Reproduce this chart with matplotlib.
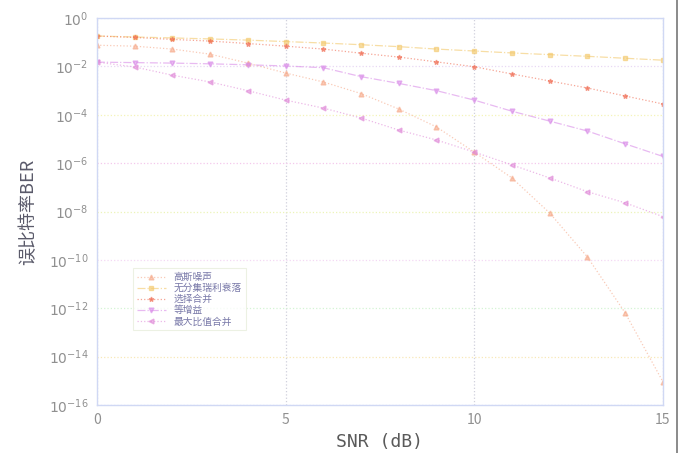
import numpy as np
import matplotlib
matplotlib.use("Agg")
import matplotlib.pyplot as plt
from matplotlib.lines import Line2D

plt.rcParams['font.family'] = ['Noto Sans CJK SC', 'DejaVu Sans']

snr_db = [0, 1, 2, 3, 4, 5, 6, 7, 8, 9, 10, 11, 12, 13, 14, 15]

# log10(BER)
log_awgn = [-1.12, -1.16, -1.28, -1.49, -1.86, -2.27, -2.64, -3.12, -3.76, -4.50,
            -5.54, -6.61, -8.06, -9.88, -12.19, -15.04]
log_rayleigh = [-0.74, -0.78, -0.82, -0.86, -0.91, -0.97, -1.03, -1.10, -1.18, -1.28,
                -1.36, -1.44, -1.51, -1.58, -1.66, -1.74]
log_select = [-0.74, -0.80, -0.88, -0.95, -1.05, -1.16, -1.28, -1.45, -1.61, -1.81,
              -2.01, -2.31, -2.60, -2.89, -3.22, -3.55]
log_egc = [-1.82, -1.84, -1.86, -1.89, -1.93, -1.98, -2.05, -2.42, -2.70, -3.00,
           -3.39, -3.85, -4.26, -4.67, -5.20, -5.72]
log_mrc = [-1.82, -2.02, -2.36, -2.64, -3.00, -3.39, -3.72, -4.13, -4.63, -5.04,
           -5.54, -6.07, -6.61, -7.18, -7.64, -8.21]

labels = ["高斯噪声", "无分集瑞利衰落", "选择合并", "等增益", "最大比值合并"]
series = [log_awgn, log_rayleigh, log_select, log_egc, log_mrc]
colors = ["#f6a888", "#f3c86a", "#f06a50", "#d98ce8", "#e08ad8"]
markers = ["^", "s", "*", "v", "<"]
styles = [":", "-.", ":", "-.", ":"]

ytick_vals = [0, -2, -4, -6, -8, -10, -12, -14, -16]
xtick_vals = [0, 5, 10, 15]

fig = plt.figure(figsize=(6.82, 4.53), dpi=100)
ax = fig.add_axes([0.142, 0.106, 0.830, 0.854])

for lg, lab, c, m, ls in zip(series, labels, colors, markers, styles):
    ax.semilogy(snr_db, 10.0 ** np.array(lg), linestyle=ls, color=c, marker=m,
                markersize=3.5, linewidth=0.9, label=lab, alpha=0.6)

ax.set_xlim(0, 15)
ax.set_ylim(1e-16, 1)
ax.set_xticks(xtick_vals)
ax.set_xticklabels([str(v) for v in xtick_vals])
ax.set_yticks([10.0 ** v for v in ytick_vals])
ax.set_yticklabels([r"$10^{%d}$" % v for v in ytick_vals])
ax.minorticks_off()
ax.tick_params(axis='both', colors='#a0a0a0', labelcolor='#909090', labelsize=10,
               length=0, pad=6)

ax.grid(True, which='major', linestyle=':', linewidth=0.9)
grid_cols = ["#c8e0f8", "#e8d8f4", "#f4f4b8", "#f4c8ec", "#ecf4b8",
             "#f4d8f4", "#d4f4d4", "#f8e8b8", "#c8d4f8"]
for gl, c in zip(ax.get_ygridlines(), grid_cols):
    gl.set_color(c)
for gl in ax.get_xgridlines():
    gl.set_color("#d0d0dc")

for s in ax.spines.values():
    s.set_color("#d0d8f4")
    s.set_linewidth(1.0)

ax.set_xlabel("SNR (dB)", fontsize=13, color='#5a5a5a', labelpad=4,
              family='DejaVu Sans Mono')
ax.set_ylabel("误比特率BER", fontsize=13, color='#5a5a6a', labelpad=8)

leg = ax.legend(loc='lower left', bbox_to_anchor=(0.055, 0.18), fontsize=7,
                frameon=True, fancybox=False, borderpad=0.4, labelspacing=0.12,
                handlelength=3.0)
leg.get_frame().set_edgecolor('#e8eedc')
leg.get_frame().set_linewidth(0.8)
for t in leg.get_texts():
    t.set_color('#7878a8')

fig.add_artist(Line2D([0.992, 0.992], [0.0, 1.0], color='#777777', linewidth=1.2,
                      transform=fig.transFigure))

fig.savefig("out.png", dpi=100)
